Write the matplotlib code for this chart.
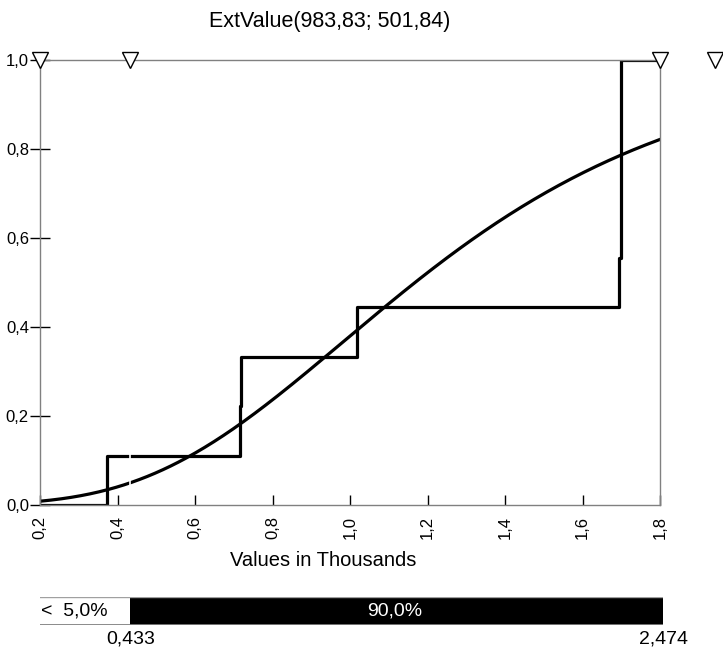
import numpy as np
import matplotlib
matplotlib.use("Agg")
import matplotlib.pyplot as plt

plt.rcParams['font.family'] = ['Liberation Sans', 'DejaVu Sans']

# fitted distribution (values in units, axis in thousands)
title = "ExtValue(983,83; 501,84)"
mu = 983.83
beta = 501.84

step_x = [0.200, 0.373, 0.716, 0.719, 1.018, 1.695, 1.700, 1.800]
step_y = [0.0, 0.111, 0.222, 0.333, 0.444, 0.556, 1.0, 1.0]

x_ticks = [0.2, 0.4, 0.6, 0.8, 1.0, 1.2, 1.4, 1.6, 1.8]
y_ticks = [0.0, 0.2, 0.4, 0.6, 0.8, 1.0]
marker_x = [0.2, 0.433, 1.8, 1.942]

left_delim = 0.433
right_delim = 2.474
left_pct = "<  5,0%"
mid_pct = "90,0%"
left_lbl = "0,433"
right_lbl = "2,474"

W, H = 723, 660
fig = plt.figure(figsize=(W / 100, H / 100), dpi=100)

def box(l, t, r, b):
    return [l / W, 1 - b / H, (r - l) / W, (b - t) / H]

ax = fig.add_axes(box(40, 60, 660, 505))
gray = "#808080"

xs = np.linspace(0.2, 1.8, 400)
cdf = np.exp(-np.exp(-(xs * 1000 - mu) / beta))
ax.plot(xs, cdf, color="black", lw=2.3, zorder=3)
ax.plot(step_x, step_y, color="black", lw=2.3, drawstyle="steps-post", zorder=3)
ax.axvline(left_delim, color="white", lw=1.2, zorder=4)

ax.plot(marker_x, [1.0] * len(marker_x), ls="none", marker="v", ms=11,
        mfc="white", mec="black", mew=1, clip_on=False, zorder=6)

ax.set_xlim(0.2, 1.8)
ax.set_ylim(0, 1)
for s in ax.spines.values():
    s.set_color(gray)
    s.set_linewidth(1)
    s.set_zorder(5)

ax.set_xticks(x_ticks)
ax.set_xticklabels([f"{v:.1f}".replace(".", ",") for v in x_ticks], rotation=90)
ax.set_yticks(y_ticks)
ax.set_yticklabels([f"{v:.1f}".replace(".", ",") for v in y_ticks])
ax.tick_params(axis="x", direction="in", length=7, width=1, color="black",
               labelsize=12, pad=8)
ax.tick_params(axis="y", direction="inout", length=14, width=1, color="black",
               labelsize=12, pad=1)

fig.text(330 / W, 1 - 22 / H, title, ha="center", va="center", fontsize=15.5)
fig.text(323 / W, 1 - 561 / H, "Values in Thousands", ha="center", va="center",
         fontsize=14.5)

# delimiter bar
bx = fig.add_axes(box(40, 597, 663, 625))
bx.set_xlim(0.2, 1.8 + 3 / 387.5)
bx.set_ylim(0, 1)
bx.axis("off")
bx.barh(0.5, right_delim - left_delim, left=left_delim, height=1.0,
        color="black", zorder=2)
bx.plot([0.2, 1.8 + 3 / 387.5], [1, 1], color="#a0a0a0", lw=1, zorder=3)
bx.plot([0.2, 1.8 + 3 / 387.5], [0, 0], color=gray, lw=2, zorder=3)
bx.text(0.203, 0.5, left_pct, ha="left", va="center", fontsize=14)
bx.text((left_delim + 1.8) / 2, 0.5, mid_pct, ha="center", va="center",
        fontsize=14, color="white")
bx.text(left_delim, -0.5, left_lbl, ha="center", va="center", fontsize=14)
bx.text(1.8 + 3 / 387.5, -0.5, right_lbl, ha="center", va="center", fontsize=14)

fig.savefig("out.png", dpi=100)
